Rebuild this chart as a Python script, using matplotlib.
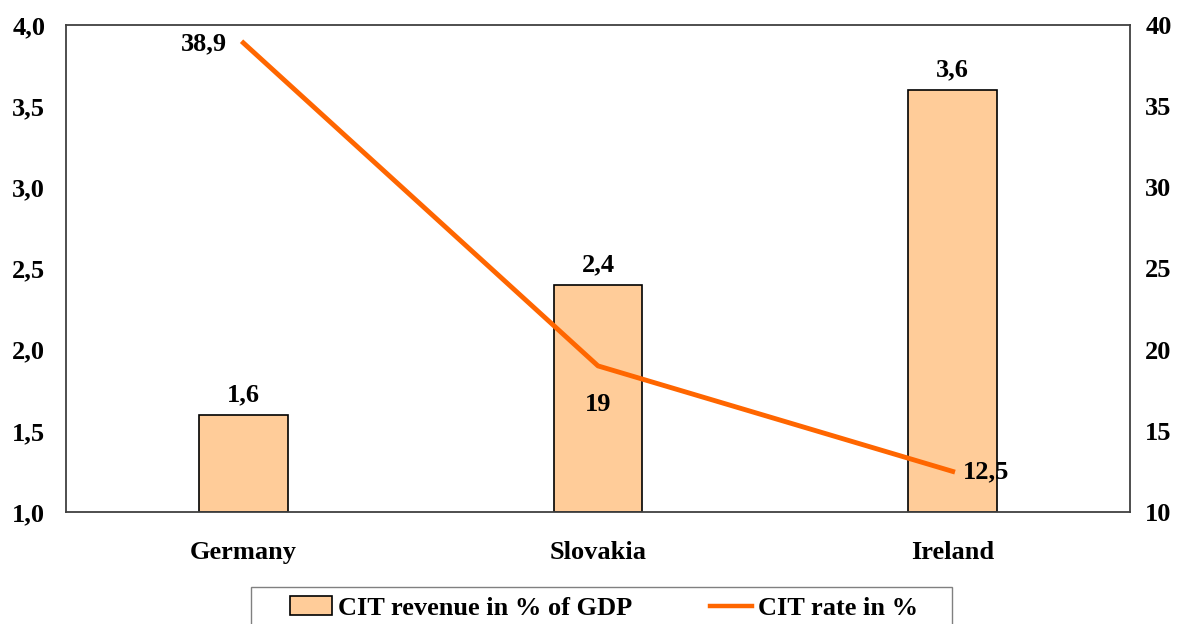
import matplotlib
matplotlib.use("Agg")
import matplotlib.pyplot as plt
from matplotlib.patches import Patch, Rectangle
from matplotlib.lines import Line2D

categories = ["Germany", "Slovakia", "Ireland"]
cit_revenue = [1.6, 2.4, 3.6]
cit_rate = [38.9, 19, 12.5]
rev_labels = ["1,6", "2,4", "3,6"]
rate_labels = ["38,9", "19", "12,5"]
left_ticks = [1.0, 1.5, 2.0, 2.5, 3.0, 3.5, 4.0]
left_tick_labels = ["1,0", "1,5", "2,0", "2,5", "3,0", "3,5", "4,0"]
right_ticks = [10, 15, 20, 25, 30, 35, 40]

plt.rcParams['font.family'] = ['Liberation Serif', 'DejaVu Serif']
plt.rcParams['font.weight'] = 'bold'
FS = 19
W, H = 1186, 624

fig = plt.figure(figsize=(W/100, H/100), dpi=100)
ax = fig.add_axes([66/W, 1-512/H, (1130-66)/W, (512-25)/H])
x = list(range(len(categories)))
ax.bar(x, [v - 1.0 for v in cit_revenue], bottom=1.0, width=0.25,
       color="#FFCC99", edgecolor="black", linewidth=1.2, zorder=2)
ax.set_xlim(-0.5, 2.5)
ax.set_ylim(1.0, 4.0)
ax.set_yticks(left_ticks)
ax.set_yticklabels(left_tick_labels, fontsize=FS, fontweight='bold')
ax.set_xticks(x)
ax.set_xticklabels(categories, fontsize=FS, fontweight='bold')
ax.tick_params(axis='both', length=0)
ax.tick_params(axis='y', pad=15)
ax.tick_params(axis='x', pad=21)
for s in ax.spines.values():
    s.set_color("#404040")
    s.set_linewidth(1.3)

for xi, v, lab in zip(x, cit_revenue, rev_labels):
    ax.annotate(lab, (xi, v), xytext=(0, 6), textcoords='offset points',
                ha='center', va='bottom', fontsize=FS, fontweight='bold')

ax2 = ax.twinx()
ax2.set_ylim(10, 40)
ax2.set_yticks(right_ticks)
ax2.set_yticklabels([str(t) for t in right_ticks], fontsize=FS, fontweight='bold')
ax2.tick_params(axis='y', length=0, pad=11)
for s in ax2.spines.values():
    s.set_visible(False)
ax2.plot(x, cit_rate, color="#FF6600", linewidth=3.5, zorder=3)

offsets = [(-12, -1, 'right', 'center'), (0, -28, 'center', 'center'), (7, 0, 'left', 'center')]
for xi, v, lab, (dx, dy, ha, va) in zip(x, cit_rate, rate_labels, offsets):
    ax2.annotate(lab, (xi, v), xytext=(dx, dy), textcoords='offset points',
                 ha=ha, va=va, fontsize=FS, fontweight='bold')

# legend frame
fig.patches.append(Rectangle((251/W, 1-640/H), (952-251)/W, (640-587)/H,
                             transform=fig.transFigure, facecolor='white',
                             edgecolor='#808080', linewidth=1.0, zorder=1))

handles = [Patch(facecolor="#FFCC99", edgecolor="black", linewidth=1.2),
           Line2D([0], [0], color="#FF6600", linewidth=3.2)]
leg = fig.legend(handles, ["CIT revenue in % of GDP", "CIT rate in %"],
                 loc='center left', bbox_to_anchor=(290/W, 1-608/H),
                 ncol=2, frameon=False,
                 prop={'weight': 'bold', 'size': FS},
                 handlelength=1.6, handletextpad=0.22, columnspacing=2.95,
                 borderpad=0.0, borderaxespad=0.0)
leg.set_zorder(5)

fig.savefig("out.png", dpi=100)
